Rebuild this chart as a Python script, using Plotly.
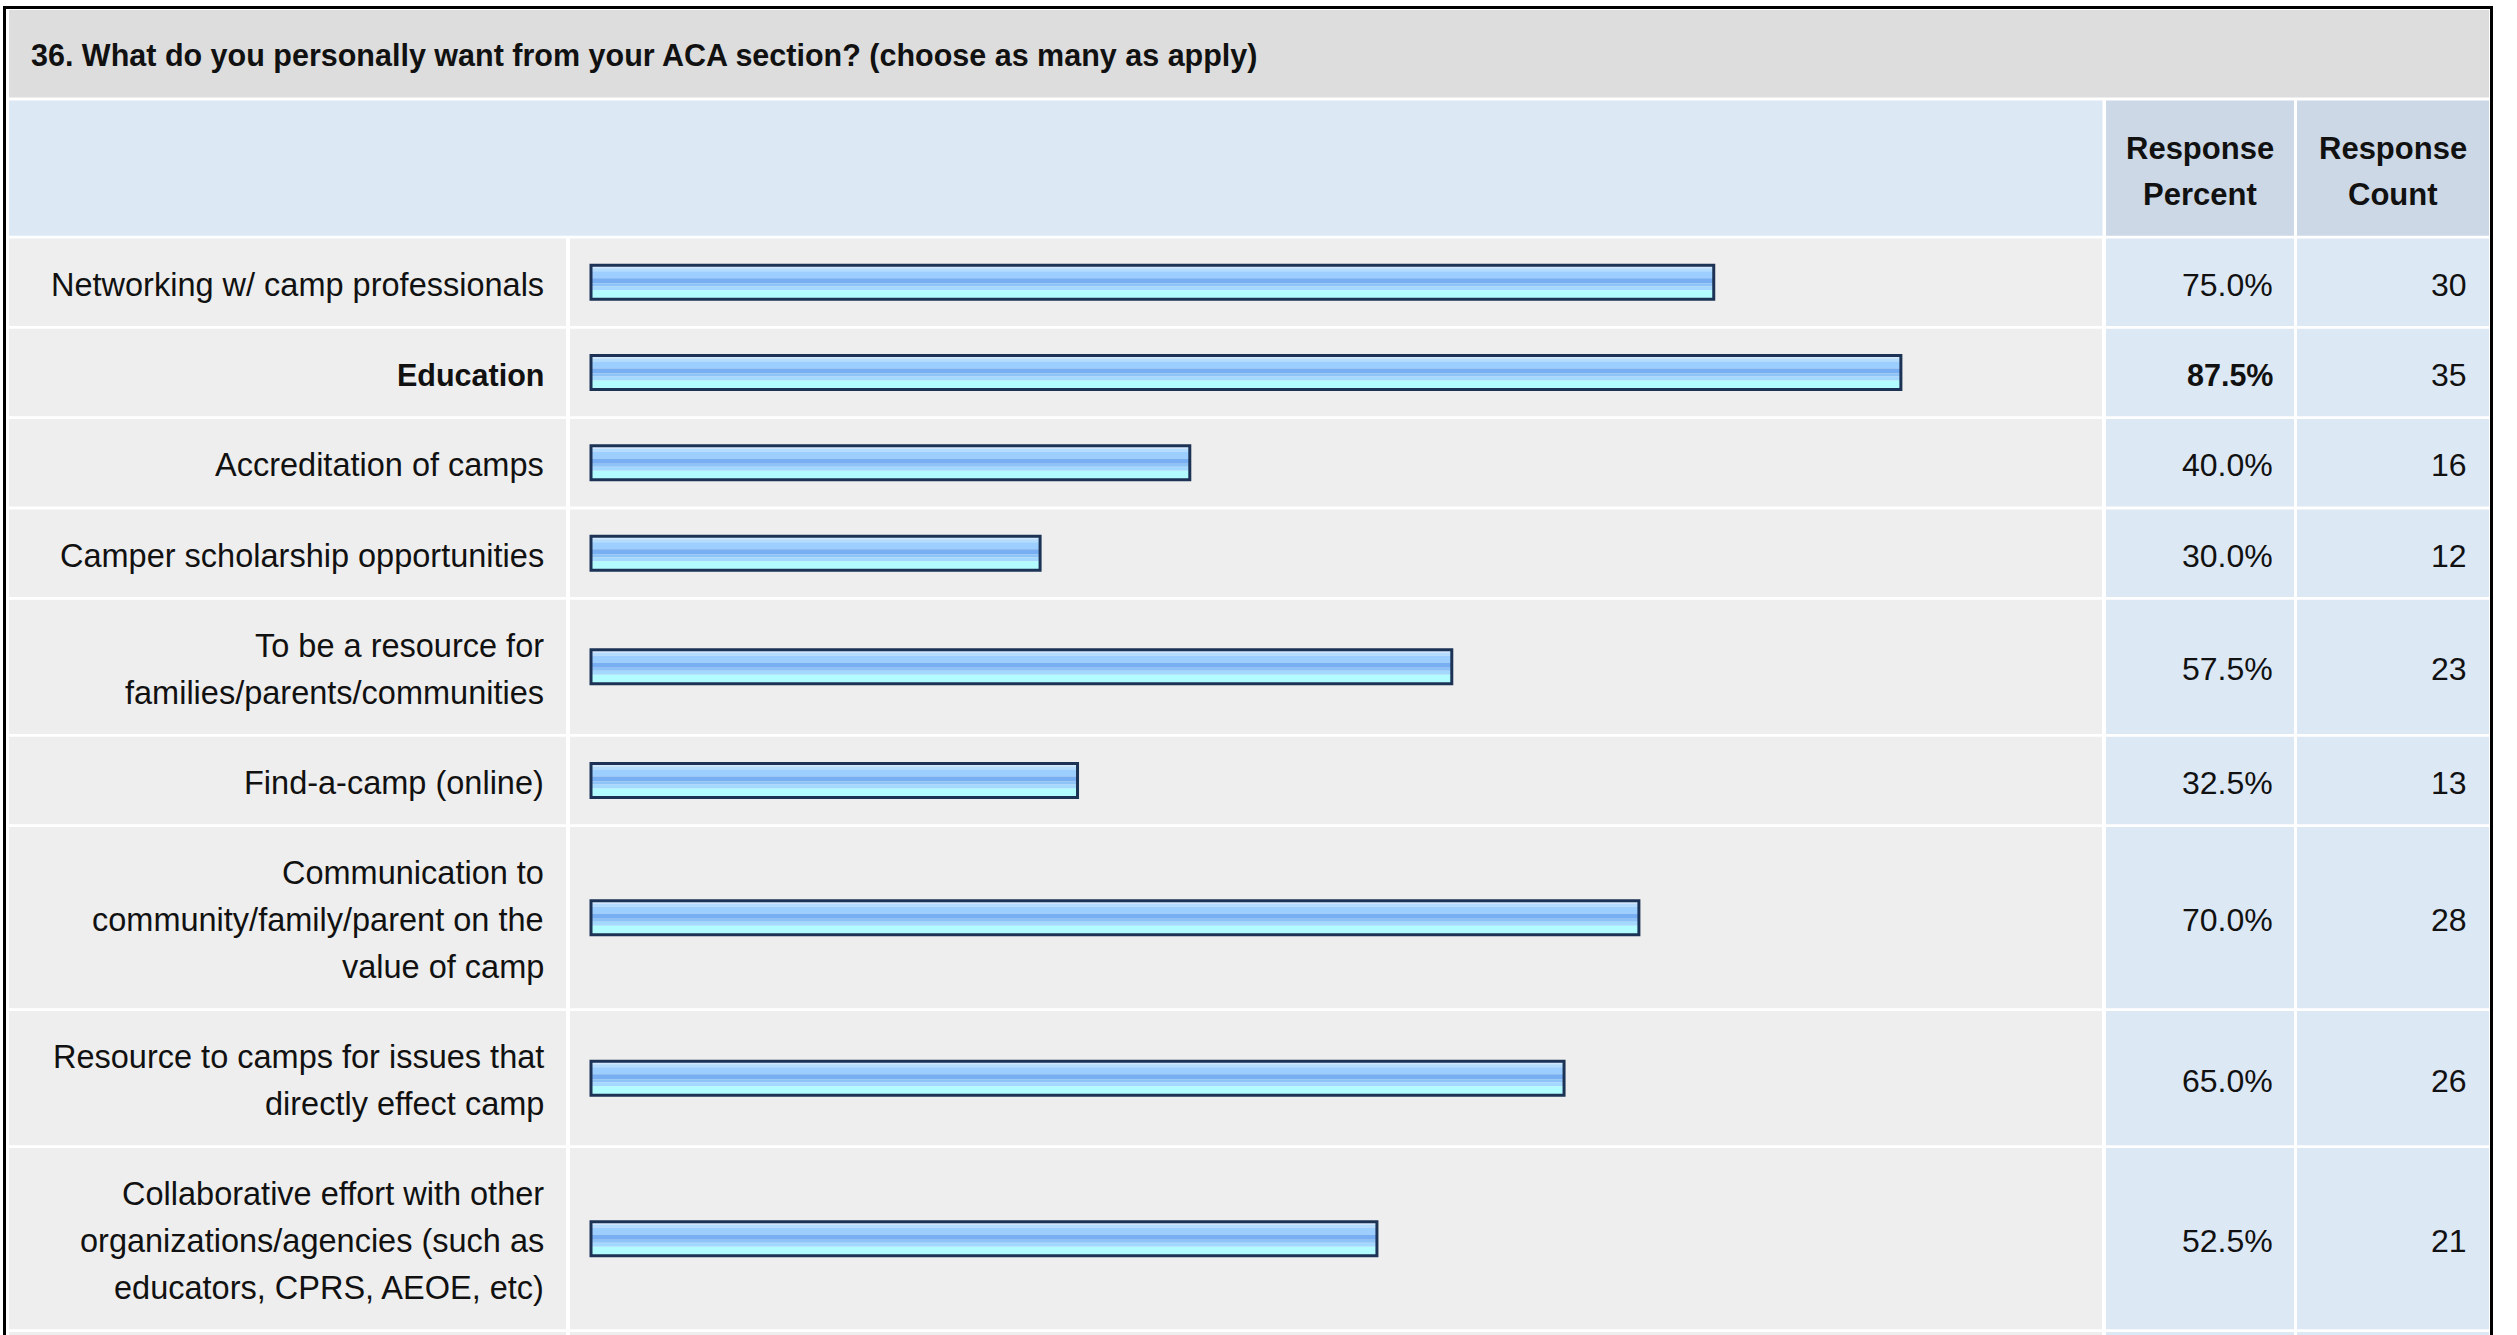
import plotly.graph_objects as go

# ---------------- data ----------------
title = "36. What do you personally want from your ACA section? (choose as many as apply)"
header_pct = ["Response", "Percent"]
header_cnt = ["Response", "Count"]
labels = [
    ["Networking w/ camp professionals"],
    ["Education"],
    ["Accreditation of camps"],
    ["Camper scholarship opportunities"],
    ["To be a resource for", "families/parents/communities"],
    ["Find-a-camp (online)"],
    ["Communication to", "community/family/parent on the", "value of camp"],
    ["Resource to camps for issues that", "directly effect camp"],
    ["Collaborative effort with other", "organizations/agencies (such as", "educators, CPRS, AEOE, etc)"],
]
percents = [75.0, 87.5, 40.0, 30.0, 57.5, 32.5, 70.0, 65.0, 52.5]
counts = [30, 35, 16, 12, 23, 13, 28, 26, 21]

# ---------------- layout constants (pixels) ----------------
W, H = 2517, 1335
FONT = "Liberation Sans, Arial, Helvetica, sans-serif"
TXT = "#111111"

BAR_X0 = 591.0          # pixel where 0% sits
PX_PER_PCT = 14.97      # pixels per percent

ROW_TOP = 238.5
ROW_H1 = 87.5
LINE = 46.8
GAP = 2.8
TEXT_DY = 2.5

COL_LABEL = (9, 566)
COL_BAR = (570, 2102)
COL_PCT = (2106, 2294)
COL_CNT = (2297, 2489)

C_TITLE = "#dddddd"
C_HEAD = "#dde8f5"
C_HEAD_DARK = "#ccd8e6"
C_ROW = "#eeeeee"
C_VAL = "#dde8f5"

SZ_LABEL = 32.5
SZ_BOLD = 30.5
SZ_VAL = 32
SZ_HEAD = 31
SZ_TITLE = 30.5


def px(x):
    return x / W


shapes = []
annotations = []


def rect(x0, y0, x1, y1, color):
    shapes.append(dict(type="rect", xref="paper", yref="y", x0=px(x0), x1=px(x1),
                       y0=y0, y1=y1, fillcolor=color, line=dict(width=0), layer="below"))


# outer frame
shapes.append(dict(type="rect", xref="paper", yref="y", x0=px(4.5), x1=px(2491.5),
                   y0=7.5, y1=H + 20, fillcolor="rgba(0,0,0,0)",
                   line=dict(color="#000000", width=3), layer="below"))

# title band
rect(9, 10, 2489, 97.5, C_TITLE)
annotations.append(dict(xref="paper", yref="y", x=px(29), y=55.5, text="<b>%s</b>" % title,
                        showarrow=False, xanchor="left", yanchor="middle",
                        font=dict(family=FONT, size=SZ_TITLE, color=TXT)))

# header band
rect(9, 100.5, 2102.5, 235.7, C_HEAD)
rect(COL_PCT[0], 100.5, COL_PCT[1], 235.7, C_HEAD_DARK)
rect(COL_CNT[0], 100.5, COL_CNT[1], 235.7, C_HEAD_DARK)
for col, words in ((COL_PCT, header_pct), (COL_CNT, header_cnt)):
    cx = (col[0] + col[1]) / 2
    for k, w in enumerate(words):
        annotations.append(dict(xref="paper", yref="y", x=px(cx), y=148.5 + 45.5 * k,
                                text="<b>%s</b>" % w, showarrow=False,
                                xanchor="center", yanchor="middle",
                                font=dict(family=FONT, size=SZ_HEAD, color=TXT)))

# rows
max_i = percents.index(max(percents))
centers = []
y = ROW_TOP
for i, lab in enumerate(labels):
    h = ROW_H1 + LINE * (len(lab) - 1)
    y0, y1 = y, y + h
    c = (y0 + y1) / 2
    centers.append(c)
    rect(COL_LABEL[0], y0, COL_LABEL[1], y1, C_ROW)
    rect(COL_BAR[0], y0, COL_BAR[1], y1, C_ROW)
    rect(COL_PCT[0], y0, COL_PCT[1], y1, C_VAL)
    rect(COL_CNT[0], y0, COL_CNT[1], y1, C_VAL)
    bold = (i == max_i)
    n = len(lab)
    for k, line in enumerate(lab):
        ly = c + TEXT_DY + LINE * (k - (n - 1) / 2)
        t = "<b>%s</b>" % line if bold else line
        annotations.append(dict(xref="paper", yref="y", x=px(546), y=ly, text=t,
                                showarrow=False, xanchor="right", yanchor="middle",
                                font=dict(family=FONT, size=SZ_BOLD if bold else SZ_LABEL,
                                          color=TXT)))
    ptxt = "%.1f%%" % percents[i]
    annotations.append(dict(xref="paper", yref="y", x=px(2275), y=c + TEXT_DY,
                            text="<b>%s</b>" % ptxt if bold else ptxt,
                            showarrow=False, xanchor="right", yanchor="middle",
                            font=dict(family=FONT, size=SZ_BOLD if bold else SZ_VAL, color=TXT)))
    annotations.append(dict(xref="paper", yref="y", x=px(2469), y=c + TEXT_DY, text=str(counts[i]),
                            showarrow=False, xanchor="right", yanchor="middle",
                            font=dict(family=FONT, size=SZ_VAL, color=TXT)))
    y = y1 + GAP

# next (cut-off) row sliver
rect(COL_LABEL[0], y, COL_LABEL[1], H + 5, C_ROW)
rect(COL_BAR[0], y, COL_BAR[1], H + 5, C_ROW)
rect(COL_PCT[0], y, COL_PCT[1], H + 5, C_VAL)
rect(COL_CNT[0], y, COL_CNT[1], H + 5, C_VAL)

# ---------------- bars (gradient bands + outline) ----------------
bands = [
    (-17, -14, "#d0e7ff"),
    (-14, -11, "#b4dcff"),
    (-11, -4, "#9ccfff"),
    (-4, 1, "#78aef2"),
    (1, 4, "#8ec3f8"),
    (4, 8, "#a4d8ff"),
    (8, 17, "#b2fcff"),
]
traces = []
for a, b, col in bands:
    traces.append(go.Bar(orientation="h", x=percents, y=centers, base=0,
                         offset=a, width=b - a,
                         marker=dict(color=col, line=dict(width=0)),
                         hoverinfo="skip", showlegend=False))
traces.append(go.Bar(orientation="h", x=percents, y=centers, base=0,
                     offset=-17, width=34,
                     marker=dict(color="rgba(0,0,0,0)", line=dict(color="#1c3356", width=3)),
                     hovertemplate="%{x:.1f}%<extra></extra>", showlegend=False))

fig = go.Figure(traces)
fig.update_layout(
    width=W, height=H,
    margin=dict(l=0, r=0, t=0, b=0),
    paper_bgcolor="#ffffff", plot_bgcolor="#ffffff",
    barmode="overlay",
    xaxis=dict(range=[-BAR_X0 / PX_PER_PCT, (W - BAR_X0) / PX_PER_PCT], visible=False,
               fixedrange=True),
    yaxis=dict(range=[H, 0], visible=False, fixedrange=True),
    shapes=shapes,
    annotations=annotations,
    showlegend=False,
)
fig.write_html("out.html", config=dict(displayModeBar=False),
               post_script="document.body.style.margin='0';document.body.style.overflow='hidden';")
